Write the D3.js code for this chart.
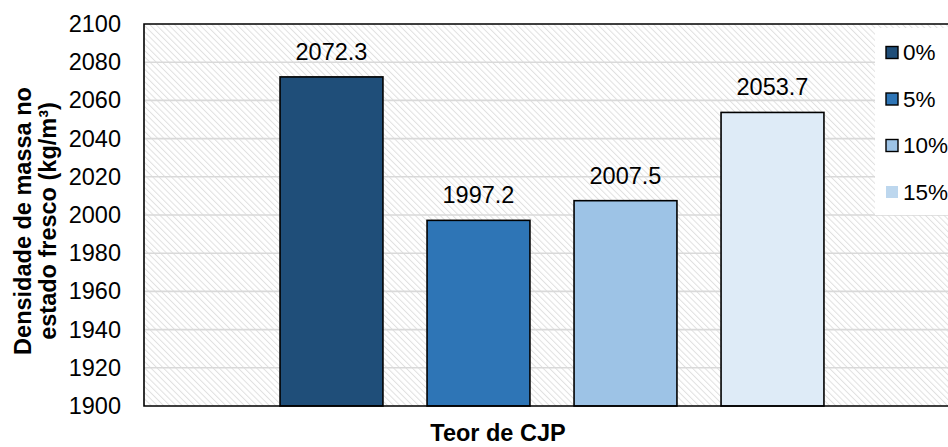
<!DOCTYPE html>
<html>
<head>
<meta charset="utf-8">
<script src="https://cdn.jsdelivr.net/npm/d3@7"></script>
<style>
  body { margin: 0; background: #fff; }
  svg { display: block; font-family: Arial, "Liberation Sans", sans-serif; }
</style>
</head>
<body>
<svg width="948" height="447"></svg>
<script>
// dados
const series = ["0%", "5%", "10%", "15%"];
const values = [2072.3, 1997.2, 2007.5, 2053.7];
const yTicks = [1900, 1920, 1940, 1960, 1980, 2000, 2020, 2040, 2060, 2080, 2100];
const barColors = ["#1f4e79", "#2e75b6", "#9dc3e6", "#deebf7"];
const legendColors = ["#1f4e79", "#2e75b6", "#9dc3e6", "#bdd7ee"];
const legendStroke = [true, true, true, false];

const svg = d3.select("svg");
const plot = {left: 144, top: 24, right: 960, bottom: 406};

// escalas
const y = d3.scaleLinear().domain([1900, 2100]).range([plot.bottom, plot.top]);
const x = d3.scaleBand().domain(series).range([258, 846]).paddingInner(0.3).paddingOuter(0.15);

// hachura de fundo
const defs = svg.append("defs");
defs.append("pattern")
    .attr("id", "hatch")
    .attr("patternUnits", "userSpaceOnUse")
    .attr("width", 4.4).attr("height", 4.4)
    .attr("patternTransform", "rotate(-45)")
  .append("rect")
    .attr("width", 1).attr("height", 4.4)
    .attr("fill", "#e0e0e0");

svg.append("rect")
    .attr("x", plot.left).attr("y", plot.top)
    .attr("width", plot.right - plot.left).attr("height", plot.bottom - plot.top)
    .attr("fill", "#fff");
svg.append("rect")
    .attr("x", plot.left).attr("y", plot.top)
    .attr("width", plot.right - plot.left).attr("height", plot.bottom - plot.top)
    .attr("fill", "url(#hatch)");

// grade
svg.append("g")
  .selectAll("line")
  .data(yTicks.slice(1, -1))
  .join("line")
    .attr("x1", plot.left).attr("x2", plot.right)
    .attr("y1", d => y(d)).attr("y2", d => y(d))
    .attr("stroke", "#d9d9d9")
    .attr("stroke-width", 1.6);

// eixo y
const yAxis = svg.append("g")
    .attr("transform", "translate(" + plot.left + ",0)")
    .call(d3.axisLeft(y).tickValues(yTicks).tickFormat(d3.format("d")).tickSize(0).tickPadding(23));
yAxis.select(".domain").remove();
yAxis.selectAll("text")
    .attr("font-size", 23.5)
    .attr("font-family", "Arial, 'Liberation Sans', sans-serif")
    .attr("fill", "#000");

// barras
svg.append("g")
  .selectAll("rect")
  .data(values)
  .join("rect")
    .attr("x", (d, i) => x(series[i]))
    .attr("y", d => y(d))
    .attr("width", x.bandwidth())
    .attr("height", d => y(1900) - y(d))
    .attr("fill", (d, i) => barColors[i])
    .attr("stroke", "#000")
    .attr("stroke-width", 1.6);

// rótulos
svg.append("g")
  .selectAll("text")
  .data(values)
  .join("text")
    .attr("x", (d, i) => x(series[i]) + x.bandwidth() / 2)
    .attr("y", d => y(d) - 17)
    .attr("text-anchor", "middle")
    .attr("font-size", 23.5)
    .text(d => d.toFixed(1));

// bordas
svg.append("path")
    .attr("d", "M" + plot.right + "," + plot.top + "H" + plot.left + "V" + plot.bottom + "H" + plot.right)
    .attr("fill", "none")
    .attr("stroke", "#000")
    .attr("stroke-width", 1.6);

// legenda
svg.append("rect")
    .attr("x", 875).attr("y", 28)
    .attr("width", 100).attr("height", 187)
    .attr("fill", "#fff");
const leg = svg.append("g")
  .selectAll("g")
  .data(series)
  .join("g")
    .attr("transform", (d, i) => "translate(886," + (52.5 + i * 46.5) + ")");
leg.append("rect")
    .attr("x", 0).attr("y", -6)
    .attr("width", 12).attr("height", 12)
    .attr("fill", (d, i) => legendColors[i])
    .attr("stroke", (d, i) => legendStroke[i] ? "#000" : "none")
    .attr("stroke-width", 1.4);
leg.append("text")
    .attr("x", 17).attr("y", 7.5)
    .attr("font-size", 22.5)
    .text(d => d);

// títulos dos eixos
svg.append("text")
    .attr("x", 498).attr("y", 441)
    .attr("text-anchor", "middle")
    .attr("font-size", 23.5)
    .attr("font-weight", "bold")
    .text("Teor de CJP");

const yTitle = svg.append("text")
    .attr("transform", "translate(0,221) rotate(-90)")
    .attr("text-anchor", "middle")
    .attr("font-size", 23.5)
    .attr("font-weight", "bold");
yTitle.append("tspan").attr("x", 0).attr("y", 31).text("Densidade de massa no");
yTitle.append("tspan").attr("x", 0).attr("y", 56).text("estado fresco (kg/m³)");
</script>
</body>
</html>
